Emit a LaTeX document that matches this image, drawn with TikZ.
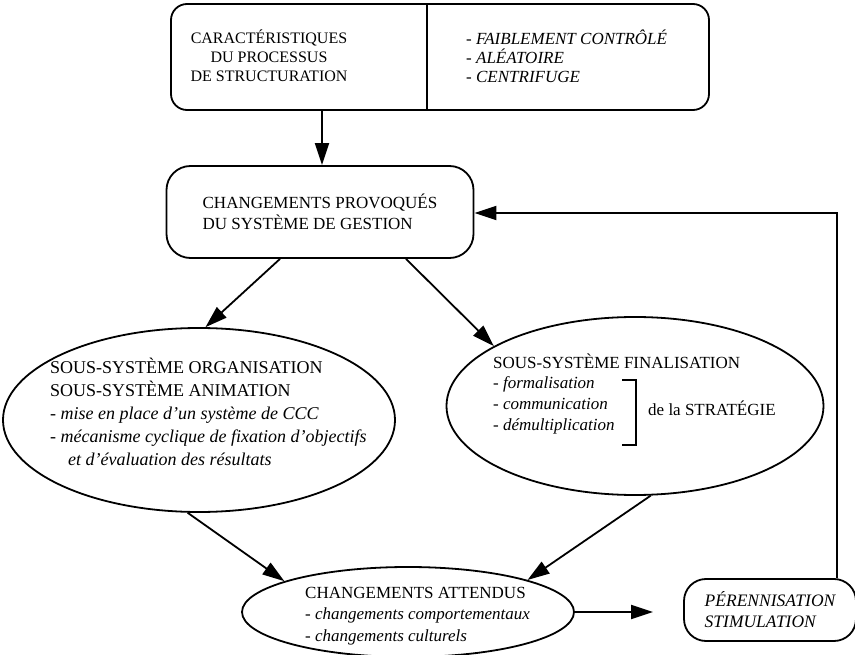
\documentclass[tikz,border=0pt]{standalone}
\usepackage{fontspec}
\setmainfont{Liberation Serif}
\usetikzlibrary{arrows.meta, shapes.geometric}
\tikzstyle{boxes} = [rectangle, rounded corners=16pt, draw=black, line width=1.8pt]
\tikzstyle{oval} = [ellipse, draw=black, line width=1.8pt, inner sep=0pt]
\tikzstyle{txt} = [align=left, inner sep=0pt, font=\fontsize{17}{22.5}\selectfont]
\tikzstyle{arrow} = [line width=1.8pt, -{Triangle[length=22pt,width=14pt]}]

\begin{document}
\begin{tikzpicture}[x=1pt, y=-1pt]
    \useasboundingbox (0,0) rectangle (855,655);

    % top box
    \node (carac) [boxes, minimum width=538pt, minimum height=106pt] at (440,57) {};
    \coordinate (caracdiv) at (427,57);
    \draw[line width=1.8pt] (carac.north -| caracdiv) -- (carac.south -| caracdiv);
    \node (caractitle) [txt, align=center, font=\fontsize{16}{19}\selectfont] at (269,56) {CARACTÉRISTIQUES\\DU PROCESSUS\\DE STRUCTURATION};
    \node (caracprop) [txt, anchor=west, font=\fontsize{17}{19}\selectfont\itshape] at (466,56) {- FAIBLEMENT CONTRÔLÉ\\- ALÉATOIRE\\- CENTRIFUGE};

    % changements provoques
    \node (chgt) [boxes, txt, rounded corners=24pt, minimum width=307pt, minimum height=92pt, font=\fontsize{17}{21}\selectfont] at (320,212) {CHANGEMENTS PROVOQUÉS\\DU SYSTÈME DE GESTION};

    % sous-systemes
    \node (orga) [oval, minimum width=392pt, minimum height=184pt] at (199,420) {};
    \node (orgatext) [txt, anchor=west, font=\fontsize{18}{23}\selectfont] at (50,412) {SOUS-SYSTÈME ORGANISATION\\SOUS-SYSTÈME ANIMATION\\\textit{- mise en place d'un système de CCC}\\\textit{- mécanisme cyclique de fixation d'objectifs}\\\textit{\quad et d'évaluation des résultats}};

    \node (fina) [oval, minimum width=377pt, minimum height=178pt] at (635,406) {};
    \node (finatitle) [txt, anchor=base west] at (493,368) {SOUS-SYSTÈME FINALISATION};
    \node (finalist) [txt, anchor=north west, font=\fontsize{17}{21}\selectfont\itshape] at (493,376) {- formalisation\\- communication\\- démultiplication};
    \coordinate (bracket) at (636,380);
    \draw[line width=1.8pt] (622,380) -- (bracket) -- (636,445) -- (622,445);
    \node (strat) [txt, anchor=base west] at (648,415) {de la STRATÉGIE};

    % changements attendus
    \node (att) [oval, minimum width=332pt, minimum height=90pt] at (408,612) {};
    \node (atttext) [txt, anchor=west, font=\fontsize{17}{21.5}\selectfont] at (305,616) {CHANGEMENTS ATTENDUS\\\textit{- changements comportementaux}\\\textit{- changements culturels}};
    \node (peren) [boxes, txt, rounded corners=22pt, minimum width=172pt, minimum height=62pt, font=\fontsize{17.5}{21}\selectfont\itshape] at (770,610) {PÉRENNISATION\\STIMULATION};

    \coordinate (fbcorner) at (837,213);
    \coordinate (downx) at (322,0);

    \draw[arrow] (carac.south -| downx) -- (chgt.north -| downx);
    \draw[arrow] ([xshift=-40pt]chgt.south) -- (orga.86);
    \draw[arrow] ([xshift=86pt]chgt.south) -- (fina.157);
    \draw[arrow] (orga.-97) -- (att.166);
    \draw[arrow] (fina.-80) -- (att.15);
    \draw[arrow, shorten >=30pt] (att.east) -- (att.east -| peren.west);
    \draw[arrow] (peren.north -| fbcorner) -- (fbcorner) -- (chgt.east |- fbcorner);

\end{tikzpicture}
\end{document}
